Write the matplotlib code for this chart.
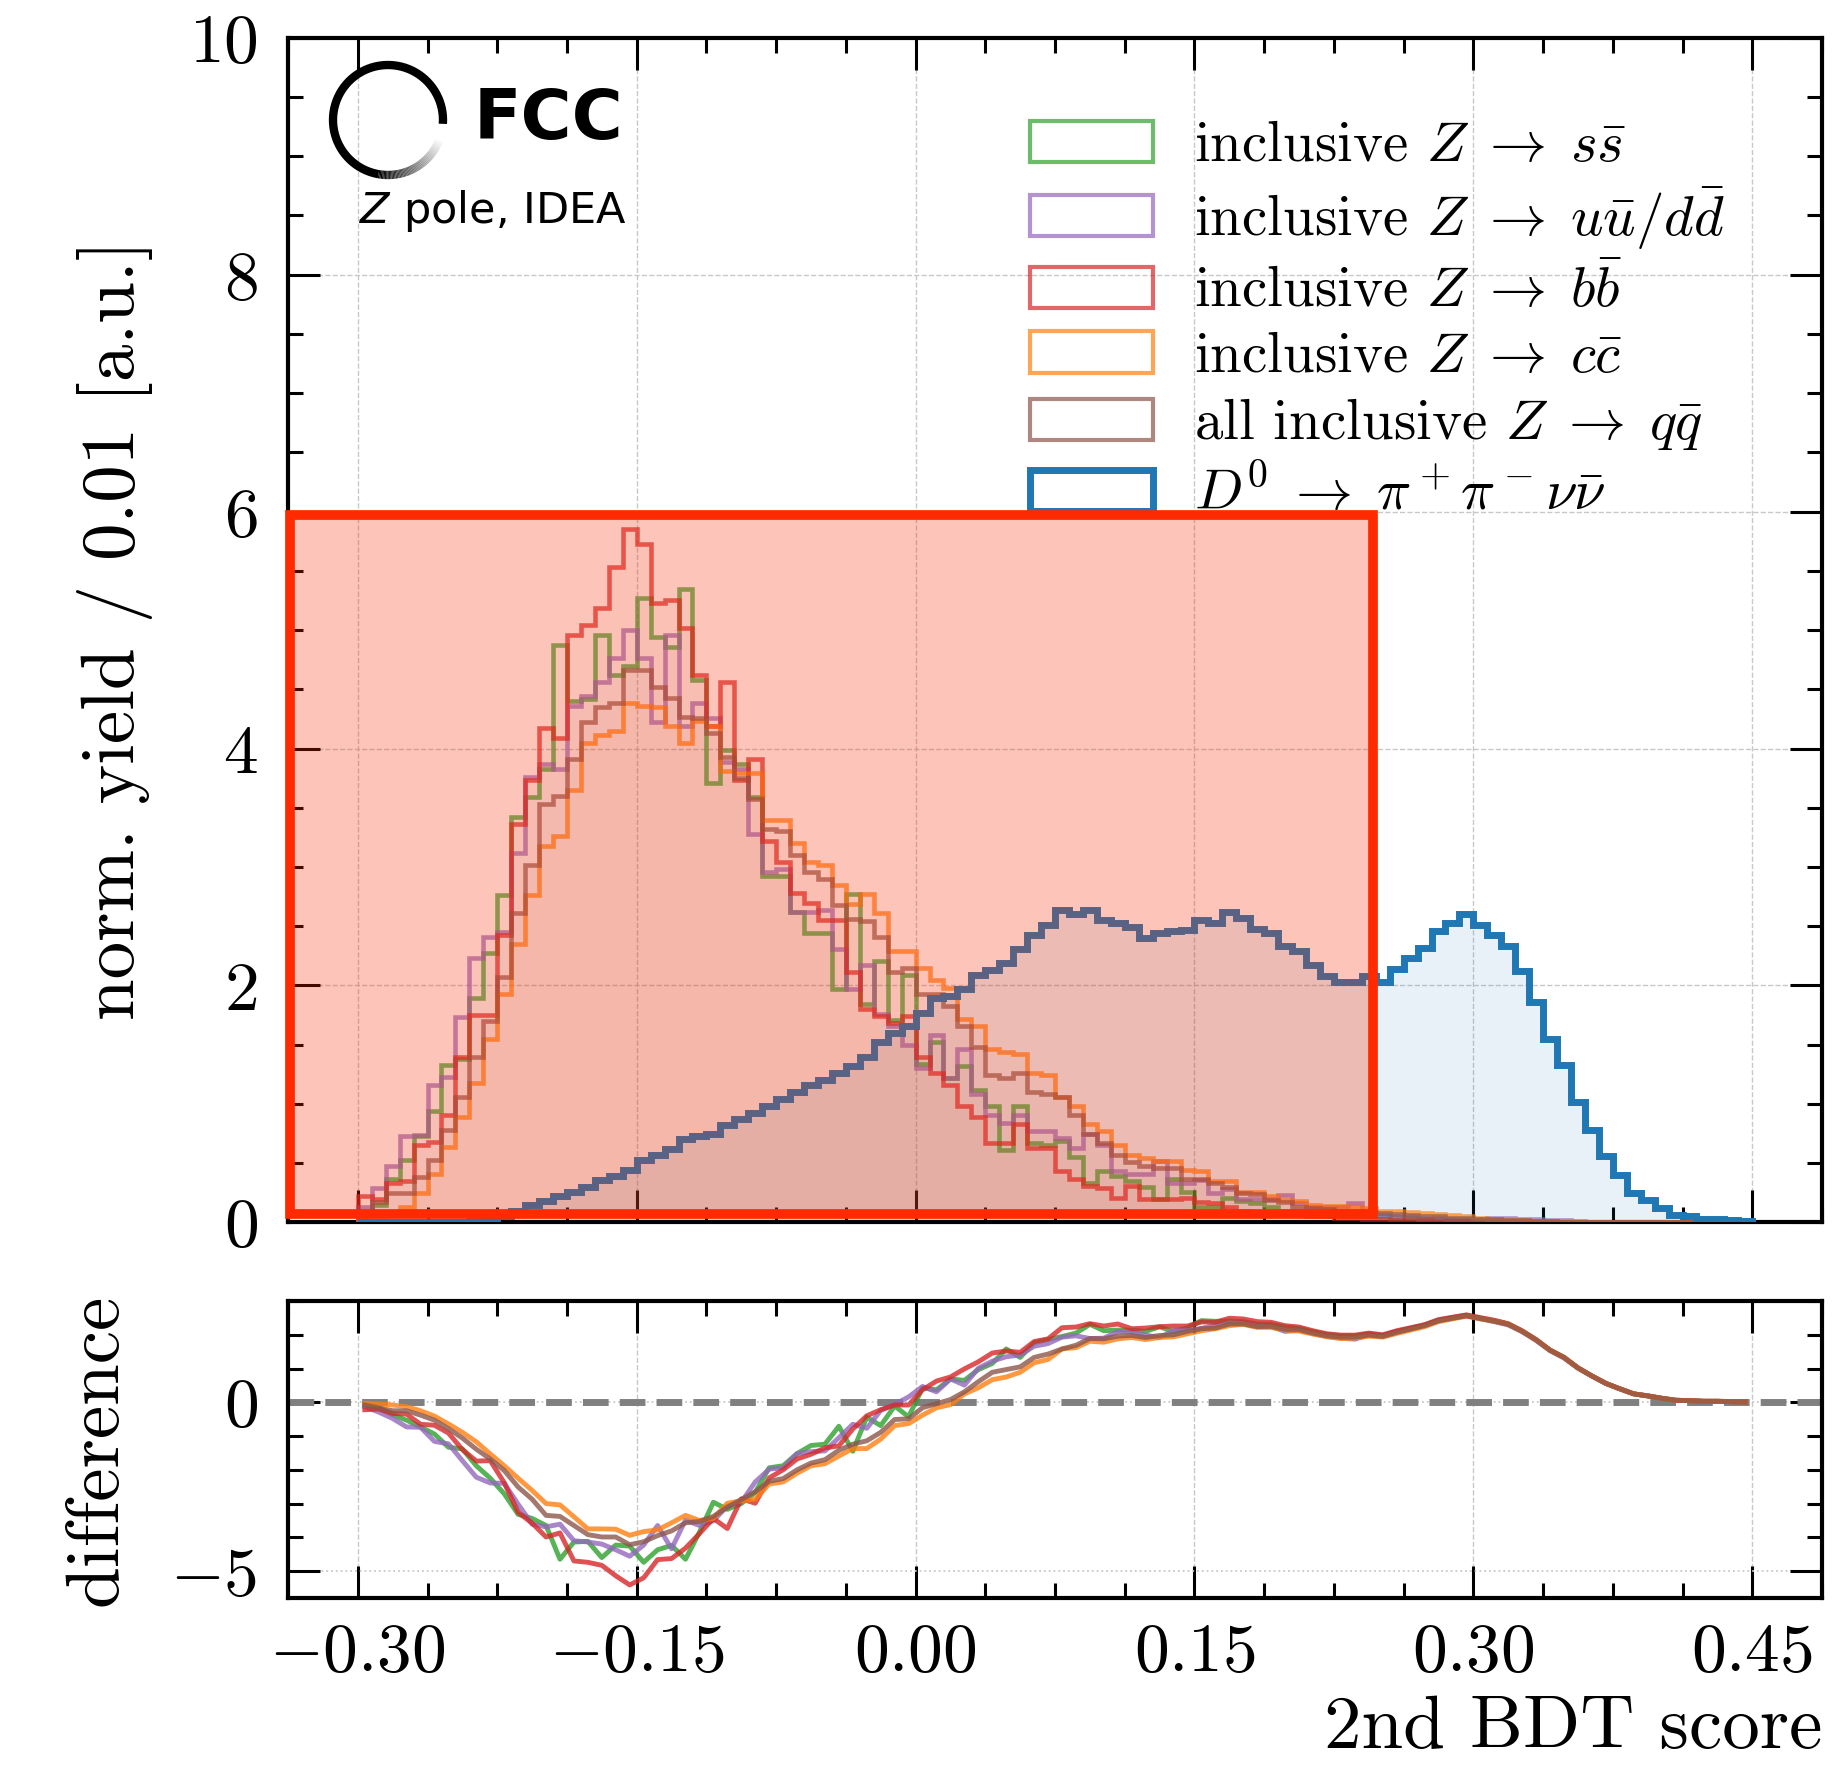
import numpy as np
import matplotlib
matplotlib.use('Agg')
import matplotlib.pyplot as plt
from matplotlib.patches import Patch, Rectangle
from matplotlib.ticker import MultipleLocator, AutoMinorLocator
from matplotlib.collections import LineCollection

plt.rcParams['font.family'] = 'serif'
plt.rcParams['font.serif'] = ['cmr10']
plt.rcParams['mathtext.fontset'] = 'cm'
plt.rcParams['axes.formatter.use_mathtext'] = True
plt.rcParams['axes.unicode_minus'] = True

# ---------------- data ----------------
bin_edges = np.linspace(-0.30, 0.45, 101)

signal_D0 = [0, 0, 0, 0, 0, 0, 0, 0, 0.01, 0.02,
             0.05, 0.10, 0.15, 0.18, 0.22, 0.26, 0.30, 0.36, 0.39, 0.44,
             0.53, 0.57, 0.62, 0.70, 0.73, 0.75, 0.82, 0.87, 0.92, 0.98,
             1.04, 1.10, 1.16, 1.20, 1.26, 1.32, 1.40, 1.52, 1.60, 1.66,
             1.77, 1.89, 1.91, 1.97, 2.09, 2.13, 2.19, 2.31, 2.43, 2.51,
             2.64, 2.60, 2.64, 2.55, 2.53, 2.49, 2.40, 2.44, 2.46, 2.47,
             2.55, 2.53, 2.62, 2.57, 2.48, 2.44, 2.33, 2.29, 2.17, 2.08,
             2.03, 2.03, 2.08, 2.03, 2.14, 2.23, 2.32, 2.46, 2.53, 2.60,
             2.51, 2.43, 2.33, 2.12, 1.86, 1.55, 1.33, 1.02, 0.78, 0.56,
             0.40, 0.25, 0.19, 0.12, 0.06, 0.05, 0.03, 0.03, 0.02, 0.01]

bkg_ss = [0.08, 0.15, 0.37, 0.53, 0.73, 0.94, 1.33, 1.38, 1.89, 2.27,
          2.76, 3.42, 3.59, 3.83, 4.87, 4.40, 4.42, 4.96, 4.62, 4.70,
          5.27, 4.94, 4.86, 5.35, 4.58, 3.71, 3.99, 3.87, 3.59, 2.92,
          2.92, 2.62, 2.44, 2.44, 1.97, 2.77, 1.84, 2.21, 1.71, 2.09,
          1.34, 1.52, 1.22, 1.32, 1.12, 0.98, 0.61, 0.98, 0.67, 0.65,
          0.69, 0.55, 0.33, 0.43, 0.39, 0.35, 0.30, 0.20, 0.37, 0.26,
          0.13, 0.13, 0.21, 0.18, 0.16, 0.13, 0.10, 0.10, 0.08, 0.07,
          0.06, 0.06, 0.05, 0.05, 0.04, 0.04, 0.03, 0.03, 0.02, 0.02,
          0.02, 0.01, 0.01, 0.01, 0.01, 0.01, 0, 0, 0, 0,
          0, 0, 0, 0, 0, 0, 0, 0, 0, 0]

bkg_uudd = [0.13, 0.29, 0.48, 0.73, 0.74, 1.16, 1.23, 1.73, 2.23, 2.41,
            2.45, 3.12, 3.76, 3.87, 3.83, 4.36, 4.44, 4.56, 4.76, 5.00,
            4.76, 4.22, 4.96, 4.19, 4.38, 4.26, 3.89, 3.83, 3.28, 2.96,
            2.98, 2.62, 2.62, 2.64, 2.31, 1.97, 2.17, 1.76, 1.66, 1.50,
            1.30, 1.58, 1.22, 1.46, 1.08, 0.91, 0.84, 0.91, 0.77, 0.77,
            0.71, 0.63, 0.75, 0.65, 0.43, 0.41, 0.41, 0.52, 0.33, 0.33,
            0.36, 0.25, 0.28, 0.20, 0.20, 0.20, 0.23, 0.16, 0.13, 0.13,
            0.13, 0.16, 0.08, 0.06, 0.05, 0.05, 0.04, 0.04, 0.03, 0.03,
            0.03, 0.04, 0.04, 0.03, 0.03, 0.02, 0.02, 0.01, 0, 0,
            0, 0, 0, 0, 0, 0, 0, 0, 0, 0]

bkg_bb = [0.22, 0.20, 0.33, 0.35, 0.65, 0.68, 0.91, 1.40, 1.75, 1.75,
          2.43, 3.36, 3.73, 4.17, 4.09, 4.96, 5.04, 5.19, 5.53, 5.85,
          5.73, 5.23, 5.25, 5.02, 4.62, 4.19, 4.56, 3.73, 3.91, 3.22,
          3.04, 2.78, 2.70, 2.55, 2.55, 2.11, 1.80, 1.74, 1.68, 1.74,
          1.40, 1.26, 1.16, 0.98, 0.89, 0.67, 0.67, 0.83, 0.63, 0.63,
          0.43, 0.37, 0.31, 0.29, 0.21, 0.31, 0.20, 0.20, 0.20, 0.21,
          0.17, 0.16, 0.13, 0.10, 0.09, 0.07, 0.06, 0.06, 0.05, 0.05,
          0.04, 0.04, 0.03, 0.03, 0.02, 0.02, 0.02, 0.01, 0.01, 0.01,
          0, 0, 0, 0, 0, 0, 0, 0, 0, 0,
          0, 0, 0, 0, 0, 0, 0, 0, 0, 0]

bkg_cc = [0.03, 0.05, 0.08, 0.13, 0.25, 0.41, 0.64, 0.89, 1.18, 1.55,
          1.93, 2.35, 2.76, 3.18, 3.26, 3.65, 4.05, 4.11, 4.15, 4.38,
          4.36, 4.35, 4.19, 4.05, 4.23, 4.19, 3.81, 3.79, 3.79, 3.40,
          3.40, 3.20, 3.04, 3.02, 2.85, 2.69, 2.77, 2.61, 2.29, 2.29,
          2.15, 2.05, 1.98, 1.72, 1.66, 1.46, 1.44, 1.42, 1.26, 1.24,
          1.06, 0.98, 0.83, 0.77, 0.65, 0.57, 0.54, 0.52, 0.52, 0.44,
          0.43, 0.35, 0.35, 0.26, 0.26, 0.22, 0.19, 0.18, 0.15, 0.14,
          0.14, 0.13, 0.12, 0.10, 0.10, 0.09, 0.08, 0.07, 0.06, 0.05,
          0.04, 0.03, 0.02, 0.02, 0.01, 0.01, 0, 0, 0, 0,
          0, 0, 0, 0, 0, 0, 0, 0, 0, 0]

bkg_all = [0.08, 0.17, 0.25, 0.25, 0.38, 0.53, 0.78, 1.06, 1.40, 1.70,
           2.07, 2.61, 3.02, 3.53, 3.60, 3.91, 4.22, 4.35, 4.38, 4.66,
           4.66, 4.52, 4.43, 4.27, 4.26, 4.13, 3.93, 3.75, 3.57, 3.32,
           3.30, 3.10, 2.96, 2.90, 2.68, 2.56, 2.54, 2.41, 2.11, 2.15,
           1.93, 1.93, 1.83, 1.66, 1.48, 1.24, 1.22, 1.26, 1.10, 1.08,
           1.06, 0.91, 0.75, 0.67, 0.57, 0.51, 0.48, 0.46, 0.46, 0.37,
           0.37, 0.33, 0.30, 0.25, 0.24, 0.19, 0.17, 0.13, 0.12, 0.11,
           0.10, 0.10, 0.09, 0.08, 0.07, 0.06, 0.05, 0.05, 0.04, 0.04,
           0.03, 0.03, 0.02, 0.02, 0.01, 0.01, 0, 0, 0, 0,
           0, 0, 0, 0, 0, 0, 0, 0, 0, 0]

bkg_labels = [r'inclusive $Z \;\rightarrow\; s\bar{s}$',
              r'inclusive $Z \;\rightarrow\; u\bar{u}/d\bar{d}$',
              r'inclusive $Z \;\rightarrow\; b\bar{b}$',
              r'inclusive $Z \;\rightarrow\; c\bar{c}$',
              r'all inclusive $Z \;\rightarrow\; q\bar{q}$']
bkg_colors = ['#2ca02c', '#9467bd', '#d62728', '#ff7f0e', '#8c564b']
signal_label = r'$D^0 \;\rightarrow\; \pi^+\pi^-\nu\bar{\nu}$'
signal_color = '#1f77b4'

bkg_series = [bkg_ss, bkg_uudd, bkg_bb, bkg_cc, bkg_all]

# ---------------- figure ----------------
W, H = 1843, 1767
fig = plt.figure(figsize=(W / 100, H / 100), dpi=100)
ax = fig.add_axes([0.1563, 0.3082, 0.8323, 0.6705])
ax2 = fig.add_axes([0.1563, 0.0956, 0.8323, 0.1681])

sig = np.array(signal_D0)
centers = 0.5 * (bin_edges[:-1] + bin_edges[1:])

for vals, col in zip(bkg_series, bkg_colors):
    ax.stairs(vals, bin_edges, fill=True, color=col, alpha=0.025, lw=0, zorder=2)
    ax.stairs(vals, bin_edges, color=col, alpha=0.7, lw=3.3, zorder=3)
ax.stairs(sig, bin_edges, fill=True, color=signal_color, alpha=0.1, lw=0, zorder=2)
ax.stairs(sig, bin_edges, color=signal_color, lw=5, zorder=4)

xlim = (-0.3375, 0.4875)
for a in (ax, ax2):
    a.set_xlim(*xlim)
    a.xaxis.set_major_locator(MultipleLocator(0.15))
    a.xaxis.set_minor_locator(AutoMinorLocator(4))
    a.tick_params(which='both', direction='in', top=True, right=True,
                  width=2.2, labelsize=50)
    a.tick_params(which='major', length=23)
    a.tick_params(which='minor', length=11)
    a.tick_params(axis='y', pad=22)
    a.tick_params(axis='x', pad=18)
    for s in a.spines.values():
        s.set_linewidth(3)
    a.grid(True, which='major', axis='x', ls='--', lw=1.0, color='#c8c8c8')

ax.set_ylim(0, 10)
ax.yaxis.set_major_locator(MultipleLocator(2))
ax.yaxis.set_minor_locator(MultipleLocator(0.5))
ax.grid(True, which='major', axis='y', ls='--', lw=1.0, color='#c8c8c8')
ax.tick_params(labelbottom=False)
ax.set_ylabel('norm. yield / 0.01 [a.u.]', fontsize=54)
ax.yaxis.set_label_coords(-0.088, 0.5)

ax2.set_ylim(-5.8, 3)
ax2.yaxis.set_major_locator(MultipleLocator(5))
ax2.yaxis.set_minor_locator(MultipleLocator(1))
ax2.grid(True, which='major', axis='y', ls=':', lw=1.3, color='#c8c8c8')
ax2.set_ylabel('difference', fontsize=54)
ax2.yaxis.set_label_coords(-0.102, 0.5)
ax2.set_xlabel('2nd BDT score', fontsize=54, loc='right', labelpad=8)

for vals, col in zip(bkg_series, bkg_colors):
    ax2.plot(centers, sig - np.array(vals), color=col, lw=3.5, alpha=0.8, zorder=3)
ax2.axhline(0, color='gray', ls='--', lw=5, zorder=2)

# legend
handles = [Patch(facecolor='none', edgecolor=c, lw=3, alpha=0.7) for c in bkg_colors]
handles.append(Patch(facecolor='none', edgecolor=signal_color, lw=5))
labels = bkg_labels + [signal_label]
leg = ax.legend(handles, labels, loc='upper left', bbox_to_anchor=(0.484, 0.930),
                frameon=False, fontsize=41, handlelength=2.15, handleheight=0.74,
                handletextpad=0.72, labelspacing=0.235, borderpad=0, borderaxespad=0)

# FCC logo
lax = fig.add_axes([388 / W - 70 / W, 1 - 120 / H - 70 / H, 140 / W, 140 / H])
lax.set_xlim(-70, 70)
lax.set_ylim(-70, 70)
lax.axis('off')
r = 55
ang_black = np.linspace(np.deg2rad(-4), np.deg2rad(-100) + 2 * np.pi, 200)
lax.plot(r * np.cos(ang_black), r * np.sin(ang_black), color='black', lw=6,
         solid_capstyle='butt')
ang_grad = np.linspace(np.deg2rad(-100), np.deg2rad(-20), 60)
pts = np.column_stack([r * np.cos(ang_grad), r * np.sin(ang_grad)])
segs = np.stack([pts[:-1], pts[1:]], axis=1)
gvals = np.linspace(0.0, 1.0, len(segs))
lc = LineCollection(segs, colors=[(g, g, g) for g in gvals], linewidths=6,
                    capstyle='butt')
lax.add_collection(lc)

ax.text(0.121, 0.931, 'FCC', transform=ax.transAxes, fontsize=50,
        family='DejaVu Sans', weight='bold', va='center', ha='left')
ax.text(0.046, 0.8435, r'$Z$ pole, IDEA', transform=ax.transAxes, fontsize=31,
        family='DejaVu Sans', math_fontfamily='dejavusans', va='baseline', ha='left')

# highlight box overlay
x0 = -0.3362
rect = Rectangle((x0, 0.07), 0.246 - x0, 5.97 - 0.07, transform=ax.transData,
                 facecolor=(248 / 255, 42 / 255, 0, 0.27), edgecolor='#ff2a00',
                 lw=7, clip_on=False, zorder=20)
ax.add_patch(rect)

fig.savefig('out.png', dpi=100)
